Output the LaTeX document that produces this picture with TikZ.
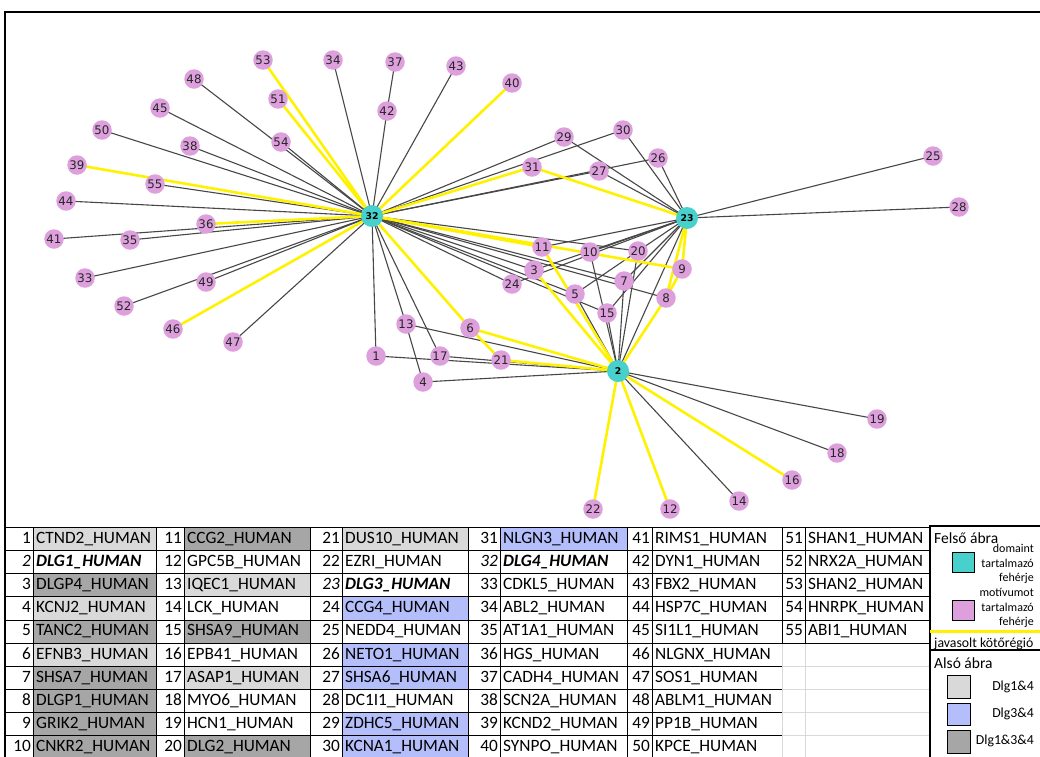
\documentclass[tikz,border=0pt]{standalone}
\usepackage{fontspec}
\setmainfont{Carlito}
\newfontfamily\nodefont{DejaVu Sans}
\usetikzlibrary{backgrounds}

\definecolor{hubcol}{RGB}{72,209,204}
\definecolor{motcol}{RGB}{221,160,221}
\definecolor{grayA}{RGB}{217,217,217}
\definecolor{grayB}{RGB}{166,166,166}
\definecolor{blueA}{RGB}{180,190,250}

\newcommand\tabsize{\fontsize{17.3}{19}\selectfont}

% egy oszlopcsoport a táblázatban: szám-cella | név-cella
\newcommand\tablecol[4]{%
  \foreach \idx/\nm/\fc/\st [count=\r] in {#4}{%
    \pgfmathsetmacro\yt{527.5+(\r-1)*23.1}%
    \pgfmathsetmacro\yb{\yt+23.1}%
    \fill[\fc] (#2,\yt) rectangle (#3,\yb);
    \draw[cellline] (#1,\yt) rectangle (#2,\yb) (#2,\yt) rectangle (#3,\yb);
    \node[numtxt,\st,anchor=east] (t\idx) at (#2-2,\yt+12) {\idx};
    \node[nametxt,\st,anchor=west] (p\idx) at (#2+3,\yt+12) {\nm\_HUMAN};
  }%
}

\begin{document}
\begin{tikzpicture}[x=1pt, y=-1pt,
    prot/.style={circle, fill=motcol, minimum size=19.5pt, inner sep=0pt, text=black!85, font=\nodefont\fontsize{11.8}{12}\selectfont},
    hub/.style={circle, fill=hubcol, minimum size=22pt, inner sep=0pt, font=\nodefont\bfseries\fontsize{9.3}{10}\selectfont},
    link/.style={black!72, line width=1.1pt},
    bindlink/.style={yellow, line width=2.6pt},
    cellline/.style={draw=black, line width=0.8pt},
    numtxt/.style={inner sep=0pt, font=\tabsize, text height=11.5pt, text depth=3.5pt},
    nametxt/.style={inner sep=0pt, font=\tabsize, text height=11.5pt, text depth=3.5pt},
    prow/.style={},
    hrow/.style={font=\tabsize\itshape},
    legtxt/.style={inner sep=0pt, font=\fontsize{12}{13}\selectfont},
    legdlg/.style={inner sep=0pt, font=\fontsize{13.8}{15}\selectfont},
    legtitle/.style={inner sep=0pt, font=\fontsize{15.5}{17}\selectfont}]
  \useasboundingbox (0,0) rectangle (1040,756);
  \clip (0,0) rectangle (1040,756);

  % Felső ábra: fehérjék
  \foreach \i/\x/\y in {1/376/356, 3/534/270, 4/423/382, 5/575/294, 6/470/328,
      7/624/281, 8/666/298, 9/682/269, 10/590/252, 11/542/247, 12/670/509,
      13/406/324, 14/739/501, 15/607/313, 16/792/480, 17/440/356, 18/837/453,
      19/877/419, 20/638/251, 21/501/360, 22/593/509, 24/512/284, 25/933/156,
      26/658/158, 27/599/171, 28/959/207, 29/564/137, 30/623/130, 31/532/167,
      33/85/278, 34/333/60, 35/130/240, 36/206/224, 37/395/62, 38/190/146,
      39/77/165, 40/512/83, 41/54/239, 42/387/111, 43/456/66, 44/66/201,
      45/160/108, 46/173/329, 47/233/342, 48/194/79, 49/206/282, 50/102/130,
      51/278/99, 52/124/306, 53/263/60, 54/281/142, 55/155/184}
    \node[prot] (n\i) at (\x,\y) {\i};
  \foreach \i/\x/\y in {2/618/371, 23/687/218, 32/372/216}
    \node[hub] (n\i) at (\x,\y) {\i};

  \begin{pgfonlayer}{background}
    \fill[white] (0,0) rectangle (1040,756);
    \foreach \a/\b in {32/34, 32/42, 42/37, 32/43, 32/48, 32/54, 32/45, 32/50,
        32/38, 32/55, 32/44, 32/41, 32/35, 32/33, 32/49, 32/52, 32/47, 32/1,
        32/13, 32/17, 32/29, 32/30, 32/26, 32/27, 32/20, 32/11, 32/3, 32/24,
        32/5, 32/15, 32/7, 32/8, 13/4, 13/2, 1/2, 17/2, 4/2, 21/2,
        23/29, 23/30, 23/26, 23/27, 23/25, 23/28, 23/11, 23/10, 23/3, 23/24,
        23/20, 23/7, 23/15, 23/2, 5/20, 5/2, 10/2, 15/2, 7/2, 20/2,
        2/19, 2/18, 2/14}
      \draw[link] (n\a.center) -- (n\b.center);
    % javasolt kötőrégió
    \foreach \a/\b in {32/53, 32/51, 32/40, 32/39, 32/36, 32/46, 32/6, 32/31,
        32/9, 32/11, 6/2, 6/21, 21/2, 31/23, 11/2, 3/2, 8/2, 8/23, 9/23, 9/8,
        2/16, 2/12, 2/22}
      \draw[bindlink] (n\a.center) -- (n\b.center);
  \end{pgfonlayer}

  % keret
  \draw[line width=2pt] (5,760) -- (5,12) -- (1045,12);

  % Alsó ábra: táblázat
  \tablecol{5}{33}{156}{1/CTND2/grayA/prow, 2/\bfseries DLG1/white/hrow,
    3/DLGP4/grayB/prow, 4/KCNJ2/grayA/prow, 5/TANC2/grayB/prow,
    6/EFNB3/grayA/prow, 7/SHSA7/grayB/prow, 8/DLGP1/grayB/prow,
    9/GRIK2/grayB/prow, 10/CNKR2/grayB/prow}
  \tablecol{156}{184}{310}{11/CCG2/grayB/prow, 12/GPC5B/white/prow,
    13/IQEC1/grayA/prow, 14/LCK/white/prow, 15/SHSA9/grayB/prow,
    16/EPB41/white/prow, 17/ASAP1/grayA/prow, 18/MYO6/white/prow,
    19/HCN1/white/prow, 20/DLG2/grayB/prow}
  \tablecol{310}{342}{468}{21/DUS10/grayA/prow, 22/EZRI/white/prow,
    23/\bfseries DLG3/white/hrow, 24/CCG4/blueA/prow, 25/NEDD4/white/prow,
    26/NETO1/blueA/prow, 27/SHSA6/blueA/prow, 28/DC1I1/white/prow,
    29/ZDHC5/blueA/prow, 30/KCNA1/blueA/prow}
  \tablecol{468}{500}{627}{31/NLGN3/blueA/prow, 32/\bfseries DLG4/white/hrow,
    33/CDKL5/white/prow, 34/ABL2/white/prow, 35/AT1A1/white/prow,
    36/HGS/white/prow, 37/CADH4/white/prow, 38/SCN2A/white/prow,
    39/KCND2/white/prow, 40/SYNPO/white/prow}
  \tablecol{627}{652}{782}{41/RIMS1/white/prow, 42/DYN1/white/prow,
    43/FBX2/white/prow, 44/HSP7C/white/prow, 45/SI1L1/white/prow,
    46/NLGNX/white/prow, 47/SOS1/white/prow, 48/ABLM1/white/prow,
    49/PP1B/white/prow, 50/KPCE/white/prow}
  \foreach \r in {6,...,10}
    \draw[black!15] (782,527.5+\r*23.1-23.1) rectangle (805,527.5+\r*23.1)
      (805,527.5+\r*23.1-23.1) rectangle (930,527.5+\r*23.1);
  \tablecol{782}{805}{930}{51/SHAN1/white/prow, 52/NRX2A/white/prow,
    53/SHAN2/white/prow, 54/HNRPK/white/prow, 55/ABI1/white/prow}

  % jelmagyarázat
  \draw[line width=1.6pt] (930,760) -- (930,526) -- (1045,526);
  \draw[line width=1.2pt] (930,650) -- (1045,650);
  \draw[yellow, line width=3pt] (930,631) -- (1045,631);
  \node[legtitle, anchor=west] (felso) at (934,538) {Felső ábra};
  \draw[fill=hubcol] (952,552) rectangle (974,572);
  \draw[fill=motcol] (952,600) rectangle (974,620);
  \foreach \t/\y [count=\k] in {domaint/548, tartalmazó/563, fehérje/578,
      motívumot/592, tartalmazó/607, fehérje/622}
    \node[legtxt, anchor=east] (lg\k) at (1034,\y) {\t};
  \node[legdlg, anchor=west] (javasolt) at (934,644) {javasolt kötőrégió};
  \node[legtitle, anchor=west] (also) at (934,663) {Alsó ábra};
  \draw[fill=grayA] (947,675) rectangle (970,698);
  \draw[fill=blueA] (947,703) rectangle (970,725);
  \draw[fill=grayB] (947,730) rectangle (970,753);
  \node[legdlg, anchor=east] (dlgA) at (1034,687) {Dlg1\&4};
  \node[legdlg, anchor=east] (dlgB) at (1034,714) {Dlg3\&4};
  \node[legdlg, anchor=east] (dlgC) at (1034,741) {Dlg1\&3\&4};
\end{tikzpicture}
\end{document}
